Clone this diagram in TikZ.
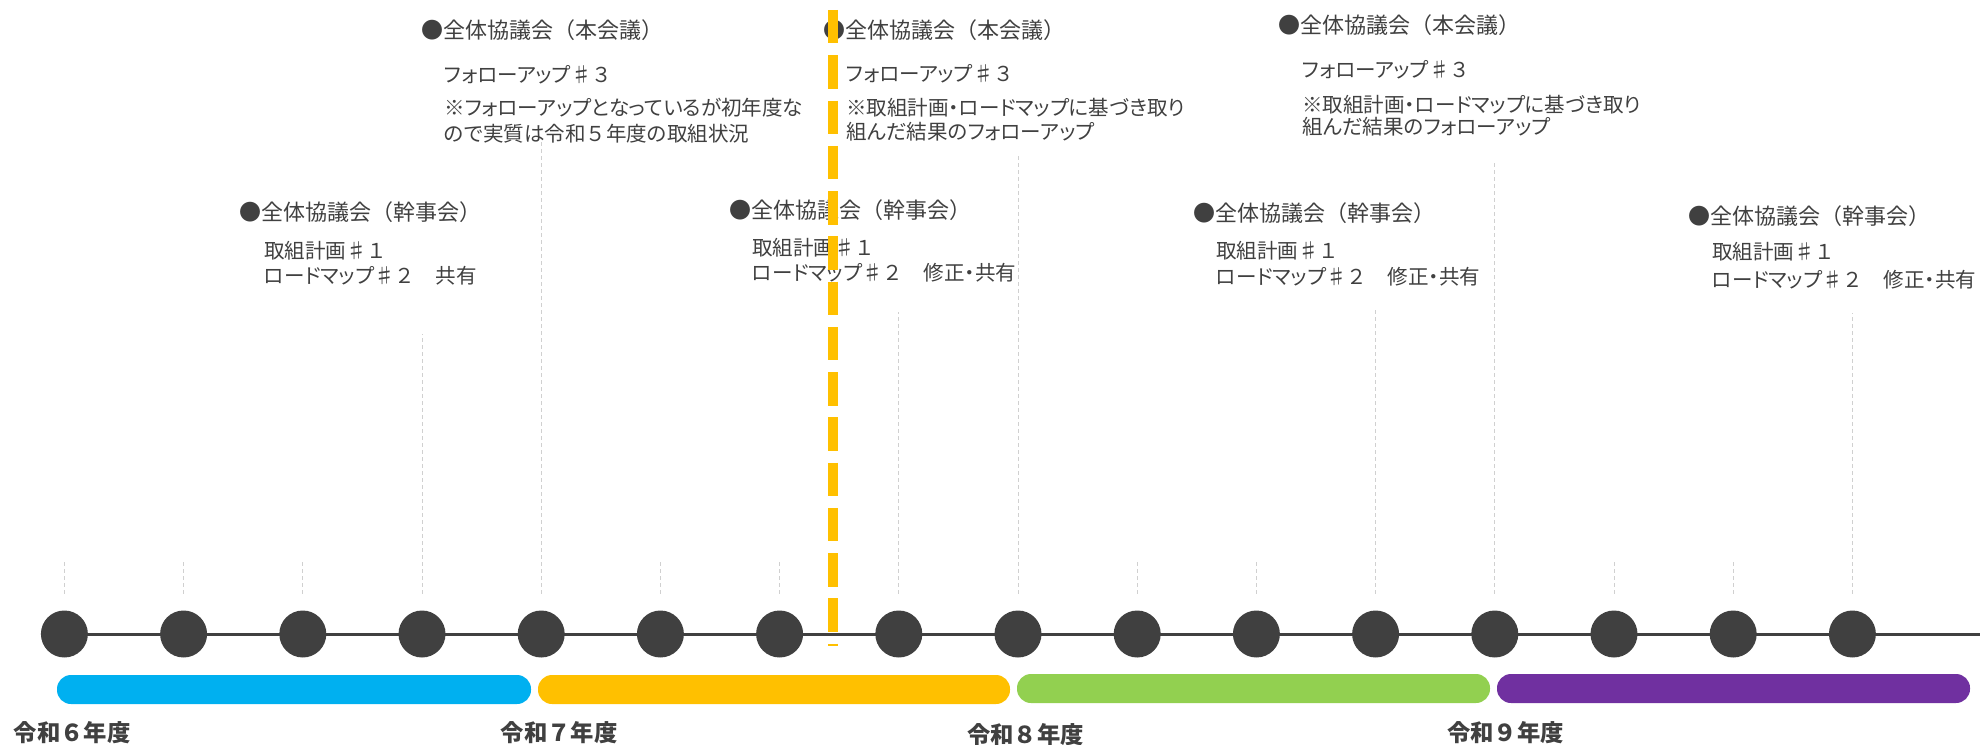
\documentclass[tikz,border=0pt]{standalone}
\usepackage{fontspec}
\setmainfont{Noto Sans CJK JP}
\newfontfamily\jpsub[RawFeature=+palt]{Noto Sans CJK JP}
\newcommand{\fwd}[1]{{\rmfamily #1}}
\definecolor{inkgray}{HTML}{404040}
\definecolor{guidegray}{HTML}{D0D0D0}
\definecolor{barblue}{HTML}{00B0F0}
\definecolor{barorange}{HTML}{FFC000}
\definecolor{bargreen}{HTML}{92D050}
\definecolor{barpurple}{HTML}{7030A0}

\begin{document}
\begin{tikzpicture}[x=0.75pt,y=-0.75pt,
    milestone/.style={circle,fill=inkgray,inner sep=0pt,minimum size=35.25pt},
    guide/.style={guidegray,line width=0.75pt,dash pattern=on 3pt off 2.25pt},
    nowline/.style={barorange,line width=7.9pt,dash pattern=on 25.1pt off 8.85pt},
    head/.style={anchor=base west,inner sep=0pt,text=inkgray,font=\fontsize{16.5}{19}\selectfont},
    sub/.style={anchor=base west,inner sep=0pt,text=inkgray,font=\jpsub\fontsize{15.4}{18}\selectfont},
    year/.style={anchor=base,inner sep=0pt,text=inkgray,font=\bfseries\fontsize{17.5}{20}\selectfont},
    term/.style={rounded corners=10.5pt}]

  \useasboundingbox (0,0) rectangle (1980,745);

  \coordinate (linestart) at (64.4,634);
  \coordinate (lineend)   at (1980,634);
  \draw[inkgray,line width=2.25pt] (linestart) -- (lineend);

  \foreach \i in {1,...,16}
    \node[milestone] (m\i) at ({64.4+119.2*(\i-1)},634) {};

  \foreach \i/\len in {1/32,2/32,3/32,4/260,5/454,6/32,7/32,8/282,
                       9/438,10/32,11/32,12/285,13/432,14/32,15/32,16/281}
    \draw[guide] ([yshift=12.4pt]m\i.north) -- +(0,-\len);

  \fill[barblue,term]   (57,675)   rectangle (531,704);
  \fill[barorange,term] (538,675)  rectangle (1010,704);
  \fill[bargreen,term]  (1017,674) rectangle (1490,703);
  \fill[barpurple,term] (1497,674) rectangle (1970,703);

  \node[year] (r6) at (72,741)     {令和６年度};
  \node[year] (r7) at (559,741)    {令和７年度};
  \node[year] (r8) at (1025.5,743.5) {令和８年度};
  \node[year] (r9) at (1505.5,741) {令和９年度};

  \node[head] (kanjiA)  at (239,221) {●全体協議会（幹事会）};
  \node[sub]  (kanjiA1) at (264,258) {取組計画♯\fwd{１}};
  \node[sub]  (kanjiA2) at (264,283) {ロードマップ♯\fwd{２}　共有};

  \node[head] (honB)  at (421,39)  {●全体協議会（本会議）};
  \node[sub]  (honB1) at (444,83)  {フォローアップ♯\fwd{３}};
  \node[sub]  (honB2) at (444,116) {※フォローアップとなっているが初年度な};
  \node[sub]  (honB3) at (444,142) {ので実質は令和\fwd{５}年度の取組状況};

  \node[head] (kanjiC)  at (729,219) {●全体協議会（幹事会）};
  \node[sub]  (kanjiC1) at (752,256) {取組計画♯\fwd{１}};
  \node[sub]  (kanjiC2) at (752,281) {ロードマップ♯\fwd{２}　修正・共有};

  \node[head] (honD)  at (823,39)  {●全体協議会（本会議）};
  \node[sub]  (honD1) at (846,82)  {フォローアップ♯\fwd{３}};
  \node[sub]  (honD2) at (846,116) {※取組計画・ロードマップに基づき取り};
  \node[sub]  (honD3) at (846,140) {組んだ結果のフォローアップ};

  \node[head] (honE)  at (1278,34)  {●全体協議会（本会議）};
  \node[sub]  (honE1) at (1302,78)  {フォローアップ♯\fwd{３}};
  \node[sub]  (honE2) at (1302,113) {※取組計画・ロードマップに基づき取り};
  \node[sub]  (honE3) at (1302,135) {組んだ結果のフォローアップ};

  \node[head] (kanjiF)  at (1193,222) {●全体協議会（幹事会）};
  \node[sub]  (kanjiF1) at (1216,259) {取組計画♯\fwd{１}};
  \node[sub]  (kanjiF2) at (1216,285) {ロードマップ♯\fwd{２}　修正・共有};

  \node[head] (kanjiG)  at (1688,225) {●全体協議会（幹事会）};
  \node[sub]  (kanjiG1) at (1712,260) {取組計画♯\fwd{１}};
  \node[sub]  (kanjiG2) at (1712,287) {ロードマップ♯\fwd{２}　修正・共有};

  \coordinate (nowtop) at (833,10);
  \coordinate (nowbot) at (833,646);
  \draw[nowline] (nowtop) -- (nowbot);
\end{tikzpicture}
\end{document}
